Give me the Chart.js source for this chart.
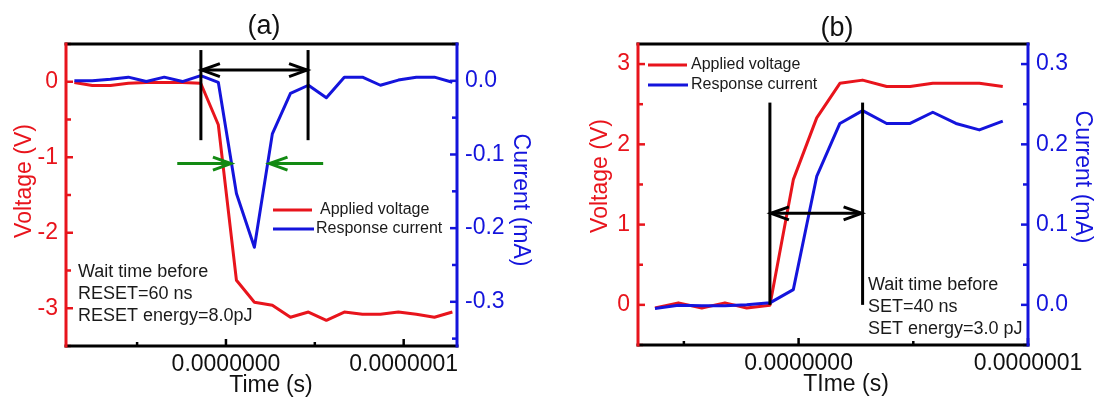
<!DOCTYPE html>
<html><head><meta charset="utf-8">
<script src="https://cdn.jsdelivr.net/npm/chart.js@4.4.0/dist/chart.umd.min.js"></script>
<style>
html,body{margin:0;padding:0;background:#fff;width:1097px;height:403px;overflow:hidden}
.p{position:absolute;top:0}
</style></head><body>
<div class="p" style="left:0;width:548px;height:403px"><canvas id="ca" width="548" height="403"></canvas></div>
<div class="p" style="left:548px;width:549px;height:403px"><canvas id="cb" width="549" height="403"></canvas></div>
<script>
// ---------- data (time in ns, voltage in V, current in mA) ----------
const timeA_ns = [-85.3, -75.2, -65.0, -54.9, -44.8, -34.7, -24.5, -14.2, -4.3, 5.9, 16.0, 26.1, 36.3, 46.4, 56.5, 66.6, 76.8, 86.9, 97.0, 107.1, 117.3, 127.4];
const voltageA = [-0.01, -0.05, -0.05, -0.02, -0.01, -0.01, -0.01, -0.02, -0.57, -2.63, -2.92, -2.96, -3.12, -3.05, -3.16, -3.05, -3.08, -3.08, -3.05, -3.08, -3.12, -3.05];
const currentA = [0.0, 0.0, 0.002, 0.005, -0.001, 0.005, -0.001, 0.007, -0.002, -0.153, -0.226, -0.072, -0.017, -0.006, -0.023, 0.005, 0.005, -0.006, 0.001, 0.005, 0.005, -0.002];

const timeB_ns = [-62.6, -52.4, -42.2, -32.1, -22.6, -12.5, -2.3, 7.9, 18.0, 27.9, 38.4, 48.6, 58.5, 68.6, 78.8, 89.0];
const voltageB = [-0.04, 0.025, -0.04, 0.025, -0.04, -0.004, 1.56, 2.33, 2.76, 2.80, 2.72, 2.72, 2.76, 2.76, 2.76, 2.72];
const currentB = [-0.0045, -0.0004, -0.001, -0.001, 0.0, 0.0025, 0.019, 0.16, 0.226, 0.242, 0.226, 0.226, 0.24, 0.226, 0.218, 0.229];

// tick values (seconds / V / mA)
const xTicks = [-5e-8, 0, 5e-8, 1e-7];
const xMajor = [0, 1e-7];
const vTicksA = [-3.5, -3, -2.5, -2, -1.5, -1, -0.5, 0, 0.5];
const iTicksA = [-0.35, -0.3, -0.25, -0.2, -0.15, -0.1, -0.05, 0, 0.05];
const vTicksB = [-0.5, 0, 0.5, 1, 1.5, 2, 2.5, 3];
const iTicksB = [-0.05, 0, 0.05, 0.1, 0.15, 0.2, 0.25, 0.3];

// annotation anchors (data units: ns, V)
const waitLinesA_ns = [-14.1, 46.2];
const waitLineSpanA_V = [0.42, -0.774];
const waitArrowA_V = 0.155;
const greenArrowsA = [[-27.4, 2.8], [54.7, 24.5]]; // [from, to] ns
const greenArrowA_V = -1.084;
const waitLinesB_ns = [-12.5, 27.9];
const waitLineSpanB_V = [0, 2.52];
const waitArrowB_V = 1.14;

const RED = '#e8141c', BLUE = '#1414dc', GREEN = '#138a13', TXT = '#1a1a1a';
const FONT = "'Liberation Sans', Arial, sans-serif";
Chart.defaults.font.family = FONT;

function pts(t, v){ return t.map((x,i)=>({x:x*1e-9, y:v[i]})); }
function isMult(v, step){ return Math.abs(v/step - Math.round(v/step)) < 1e-6; }

function line(ctx,x0,y0,x1,y1){ ctx.beginPath(); ctx.moveTo(x0,y0); ctx.lineTo(x1,y1); ctx.stroke(); }
function head(ctx, tx, ty, dir){ // chevron pointing along dir (+1 right / -1 left)
  const L=18, W=6.5;
  ctx.beginPath(); ctx.moveTo(tx-dir*L, ty-W); ctx.lineTo(tx,ty); ctx.lineTo(tx-dir*L, ty+W); ctx.stroke();
}
function vtext(ctx, txt, x, y, ang, color, size){
  ctx.save(); ctx.translate(x,y); ctx.rotate(ang); ctx.fillStyle=color;
  ctx.font = size+'px '+FONT; ctx.textAlign='center'; ctx.textBaseline='middle';
  ctx.fillText(txt,0,0); ctx.restore();
}

function makeDeco(cfg){
  return { id:'deco', afterDraw(chart){
    const ctx = chart.ctx, a = chart.chartArea;
    const sx = chart.scales.x, sy = chart.scales.y, sy1 = chart.scales.y1;
    ctx.save();
    ctx.lineCap='butt';
    // inward ticks
    ctx.lineWidth = 2.5;
    ctx.strokeStyle = '#000';
    sx.ticks.forEach(t=>{ const p=sx.getPixelForValue(t.value); const L=t.label?7:4; line(ctx,p,a.bottom,p,a.bottom-L); });
    ctx.strokeStyle = RED;
    sy.ticks.forEach(t=>{ const p=sy.getPixelForValue(t.value); line(ctx,a.left,p,a.left+(t.label?7:5),p); });
    ctx.strokeStyle = BLUE;
    sy1.ticks.forEach(t=>{ const p=sy1.getPixelForValue(t.value); line(ctx,a.right,p,a.right-(t.label?7:5),p); });
    // frame
    ctx.lineWidth = 3;
    ctx.strokeStyle = '#000';
    line(ctx,a.left-1.5,a.top,a.right+1.5,a.top);
    line(ctx,a.left-1.5,a.bottom,a.right+1.5,a.bottom);
    ctx.strokeStyle = RED; line(ctx,a.left,a.top-1.5,a.left,a.bottom+1.5);
    ctx.strokeStyle = BLUE; line(ctx,a.right,a.top-1.5,a.right,a.bottom+1.5);
    // wait-time markers
    ctx.strokeStyle = '#000'; ctx.lineWidth = 3;
    const xs = cfg.waitLines.map(t=>sx.getPixelForValue(t*1e-9));
    const ya = sy.getPixelForValue(cfg.waitSpan[0]), yb = sy.getPixelForValue(cfg.waitSpan[1]);
    xs.forEach(x=>line(ctx,x,ya,x,yb));
    const yArr = sy.getPixelForValue(cfg.waitArrow);
    line(ctx,xs[0],yArr,xs[1],yArr);
    head(ctx,xs[0]+1,yArr,-1); head(ctx,xs[1]-1,yArr,1);
    if (cfg.green){
      ctx.strokeStyle = GREEN;
      const yg = sy.getPixelForValue(cfg.greenV);
      cfg.green.forEach(([f,t])=>{
        const x0=sx.getPixelForValue(f*1e-9), x1=sx.getPixelForValue(t*1e-9);
        line(ctx,x0,yg,x1,yg); head(ctx,x1,yg,x1>x0?1:-1);
      });
    }
    // legend
    ctx.lineWidth = 3;
    ctx.font = '16px '+FONT; ctx.textBaseline='middle'; ctx.textAlign='left'; ctx.fillStyle=TXT;
    cfg.legend.forEach(l=>{
      ctx.strokeStyle=l.color; line(ctx,l.x0,l.y,l.x1,l.y);
      ctx.fillText(l.text,l.tx,l.y);
    });
    // note text
    ctx.font = '18px '+FONT;
    cfg.note.lines.forEach((s,i)=>ctx.fillText(s,cfg.note.x,cfg.note.y[i]));
    // titles
    vtext(ctx,cfg.title.text,cfg.title.x,cfg.title.y,0,'#111',27);
    vtext(ctx,cfg.xTitle.text,cfg.xTitle.x,cfg.xTitle.y,0,'#111',23);
    vtext(ctx,'Voltage (V)',cfg.vTitle.x,cfg.vTitle.y,-Math.PI/2,RED,23);
    vtext(ctx,'Current (mA)',cfg.iTitle.x,cfg.iTitle.y,Math.PI/2,BLUE,23);
    ctx.restore();
  }};
}

function makeChart(id, o){
  return new Chart(document.getElementById(id), {
    type:'line',
    data:{ datasets:[
      {label:'Response current', data:pts(o.t,o.i), yAxisID:'y1', borderColor:BLUE, borderWidth:3, pointRadius:0, tension:0, borderJoinStyle:'round'},
      {label:'Applied voltage', data:pts(o.t,o.v), yAxisID:'y', borderColor:RED, borderWidth:3, pointRadius:0, tension:0, borderJoinStyle:'round'}
    ]},
    options:{
      animation:false, responsive:false, devicePixelRatio:1,
      layout:{padding:{top:o.top,left:0,right:0,bottom:0}},
      plugins:{legend:{display:false}, tooltip:{enabled:false}, title:{display:false}},
      scales:{
        x:{type:'linear', min:o.xmin, max:o.xmax,
           afterBuildTicks:s=>{ s.ticks = xTicks.map(v=>({value:v})); },
           afterFit:s=>{ s.height = o.xh; },
           grid:{display:false, drawTicks:false}, border:{display:false},
           ticks:{autoSkip:false, maxRotation:0, minRotation:0, padding:5, color:'#111', font:{size:23},
             callback:v=> xMajor.some(m=>Math.abs(m-v)<1e-12) ? v.toFixed(7) : ''}},
        y:{type:'linear', position:'left', min:o.vmin, max:o.vmax,
           afterBuildTicks:s=>{ s.ticks = o.vt.map(v=>({value:v})); },
           afterFit:s=>{ s.width = o.lw; },
           grid:{display:false, drawTicks:false}, border:{display:false},
           ticks:{padding:8, color:RED, font:{size:23}, callback:v=> isMult(v,1) ? String(Math.round(v)) : ''}},
        y1:{type:'linear', position:'right', min:o.imin, max:o.imax,
           afterBuildTicks:s=>{ s.ticks = o.it.map(v=>({value:v})); },
           afterFit:s=>{ s.width = o.rw; },
           grid:{display:false, drawTicks:false}, border:{display:false},
           ticks:{padding:8, color:BLUE, font:{size:23}, callback:v=> isMult(v,0.1) ? (Math.round(v*10)/10).toFixed(1) : ''}}
      }
    },
    plugins:[makeDeco(o.deco)]
  });
}

makeChart('ca', {
  t:timeA_ns, v:voltageA, i:currentA,
  xmin:-90e-9, xmax:130e-9, vmin:-3.5, vmax:0.5, imin:-0.36, imax:0.05,
  vt:vTicksA, it:iTicksA, top:44, xh:57, lw:66, rw:91,
  deco:{
    waitLines:waitLinesA_ns, waitSpan:waitLineSpanA_V, waitArrow:waitArrowA_V,
    green:greenArrowsA, greenV:greenArrowA_V,
    legend:[
      {color:RED, x0:273, x1:312, y:210, tx:320, text:'Applied voltage'},
      {color:BLUE, x0:273, x1:314, y:229, tx:316, text:'Response current'}
    ],
    note:{x:78, y:[272, 294, 316], lines:['Wait time before','RESET=60 ns','RESET energy=8.0pJ']},
    title:{text:'(a)', x:264, y:27},
    xTitle:{text:'Time (s)', x:271, y:386},
    vTitle:{x:25, y:181},
    iTitle:{x:520, y:200}
  }
});

makeChart('cb', {
  t:timeB_ns, v:voltageB, i:currentB,
  xmin:-70e-9, xmax:100e-9, vmin:-0.5, vmax:3.25, imin:-0.05, imax:0.325,
  vt:vTicksB, it:iTicksB, top:44, xh:58, lw:90, rw:69,
  deco:{
    waitLines:waitLinesB_ns, waitSpan:waitLineSpanB_V, waitArrow:waitArrowB_V,
    legend:[
      {color:RED, x0:100, x1:139, y:65, tx:143, text:'Applied voltage'},
      {color:BLUE, x0:100, x1:140, y:85, tx:143, text:'Response current'}
    ],
    note:{x:320, y:[285, 307, 329], lines:['Wait time before','SET=40 ns','SET energy=3.0 pJ']},
    title:{text:'(b)', x:289, y:29},
    xTitle:{text:'TIme (s)', x:298, y:385},
    vTitle:{x:53, y:176},
    iTitle:{x:534, y:177}
  }
});
</script>
</body></html>
